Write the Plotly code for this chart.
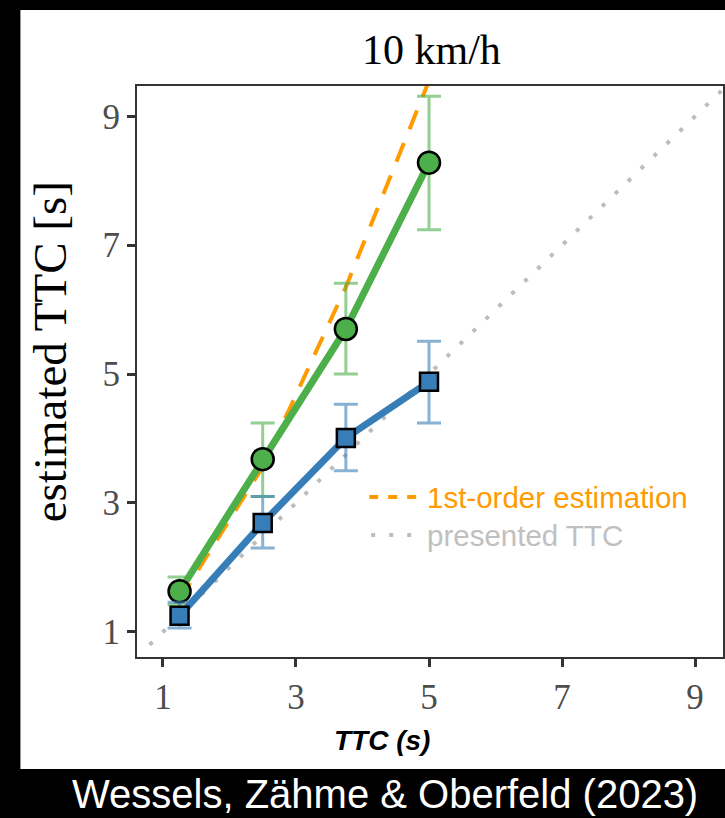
import plotly.graph_objects as go

# ---- data ----
ttc = [1.25, 2.5, 3.75, 5.0]
green_mean = [1.63, 3.68, 5.70, 8.28]
green_hi = [1.85, 4.24, 6.41, 9.31]
green_lo = [1.42, 3.10, 5.00, 7.24]
blue_mean = [1.25, 2.69, 4.01, 4.88]
blue_hi = [1.46, 3.10, 4.53, 5.51]
blue_lo = [1.06, 2.30, 3.50, 4.24]
first_order = [1.50, 3.56, 6.35, 9.55]
presented = [0.8, 9.6]

x_ticks = [1, 3, 5, 7, 9]
y_ticks = [1, 3, 5, 7, 9]

GREEN = "#4daf4a"
BLUE = "#377eb8"
ORANGE = "#ff9a00"
GREY = "#bdbdbd"

fig = go.Figure()

fig.add_trace(go.Scatter(x=presented, y=presented, mode="lines",
                         line=dict(color=GREY, width=4, dash="4px,14px"),
                         showlegend=False, hoverinfo="skip"))
fig.add_trace(go.Scatter(x=ttc, y=first_order, mode="lines",
                         line=dict(color=ORANGE, width=4, dash="20px,15px"),
                         showlegend=False))


def eb(mean, hi, lo, col):
    return dict(type="data", symmetric=False,
                array=[h - m for h, m in zip(hi, mean)],
                arrayminus=[m - l for m, l in zip(mean, lo)],
                color=col, thickness=3, width=12)


fig.add_trace(go.Scatter(x=ttc, y=green_mean, mode="lines+markers",
                         line=dict(color=GREEN, width=7),
                         marker=dict(symbol="circle", size=22, color=GREEN,
                                     line=dict(color="black", width=2.5)),
                         error_y=eb(green_mean, green_hi, green_lo, "rgba(77,175,74,0.6)"),
                         showlegend=False))
fig.add_trace(go.Scatter(x=ttc, y=blue_mean, mode="lines+markers",
                         line=dict(color=BLUE, width=7),
                         marker=dict(symbol="square", size=18, color=BLUE,
                                     line=dict(color="black", width=2.5)),
                         error_y=eb(blue_mean, blue_hi, blue_lo, "rgba(55,126,184,0.6)"),
                         showlegend=False))

L, R, T, B = 137, 0, 86, 161
W, H = 725, 818
pw, ph = W - L - R, H - T - B


def px(x):
    return (x - L) / pw


def py(y):
    return (H - B - y) / ph


serif = "Liberation Serif, Times New Roman, serif"
sans = "Liberation Sans, Arial, sans-serif"

axis_common = dict(showgrid=False, zeroline=False, showline=True, mirror=True,
                   linecolor="#333333", linewidth=2, ticks="outside",
                   ticklen=8, tickwidth=2.5, tickcolor="#333333",
                   tickfont=dict(family=serif, size=35, color="#4d4d4d"))

fig.update_layout(
    width=W, height=H,
    margin=dict(l=L, r=R, t=T, b=B),
    paper_bgcolor="black", plot_bgcolor="white",
    xaxis=dict(range=[0.61, 9.42], tickvals=x_ticks, **axis_common),
    yaxis=dict(range=[0.61, 9.47], tickvals=y_ticks, **axis_common),
    shapes=[
        dict(type="rect", xref="paper", yref="paper", layer="below",
             x0=px(20), x1=1.01, y0=py(769), y1=py(10),
             fillcolor="white", line=dict(width=0)),
        dict(type="line", xref="paper", yref="paper",
             x0=px(370), x1=px(418), y0=py(497), y1=py(497),
             line=dict(color=ORANGE, width=4, dash="9px,10px")),
        dict(type="line", xref="paper", yref="paper",
             x0=px(372), x1=px(418), y0=py(535), y1=py(535),
             line=dict(color=GREY, width=4, dash="4px,14px")),
    ],
    annotations=[
        dict(text="10 km/h", xref="paper", yref="paper", x=px(433), y=py(50),
             showarrow=False, font=dict(family=serif, size=42, color="black"),
             xanchor="center", yanchor="middle"),
        dict(text="estimated TTC [s]", xref="paper", yref="paper", x=px(50), y=py(352),
             textangle=-90, showarrow=False,
             font=dict(family=serif, size=47, color="black"),
             xanchor="center", yanchor="middle"),
        dict(text="<b><i>TTC (s)</i></b>", xref="paper", yref="paper", x=px(383), y=py(740),
             showarrow=False, font=dict(family=sans, size=28, color="black"),
             xanchor="center", yanchor="middle"),
        dict(text="1st-order estimation", xref="paper", yref="paper", x=px(426), y=py(497),
             showarrow=False, font=dict(family=sans, size=29.5, color=ORANGE),
             xanchor="left", yanchor="middle"),
        dict(text="presented TTC", xref="paper", yref="paper", x=px(426), y=py(535),
             showarrow=False, font=dict(family=sans, size=29.5, color="#c0c0c0"),
             xanchor="left", yanchor="middle"),
        dict(text="Wessels, Zähme &amp; Oberfeld (2023)", xref="paper", yref="paper",
             x=px(386), y=py(794), showarrow=False,
             font=dict(family=sans, size=40, color="white"),
             xanchor="center", yanchor="middle"),
    ],
)

fig.write_html("out.html")
